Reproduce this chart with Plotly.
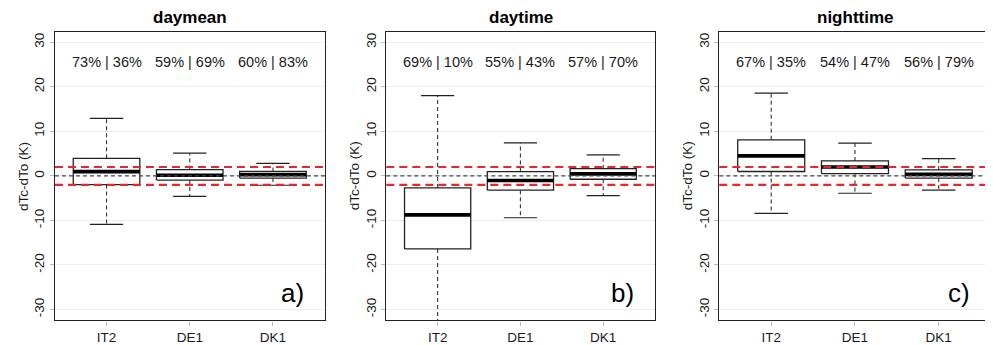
import plotly.graph_objects as go
from plotly.subplots import make_subplots

categories = ["IT2", "DE1", "DK1"]
panels = ["daymean", "daytime", "nighttime"]
panel_tags = ["a)", "b)", "c)"]

# box statistics per panel (IT2, DE1, DK1)
whisk_lo = [[-10.9, -4.6, -2.1], [-36.0, -9.4, -4.45], [-8.4, -3.9, -3.2]]
q1 = [[-1.95, -0.95, -0.5], [-16.4, -3.2, -0.75], [0.98, 0.53, -0.5]]
median = [[0.95, 0.15, 0.25], [-8.75, -1.05, 0.45], [4.5, 2.0, 0.35]]
q3 = [[3.95, 1.42, 0.98], [-2.7, 0.97, 1.62], [8.1, 3.35, 1.34]]
whisk_hi = [[12.9, 5.1, 2.83], [18.0, 7.4, 4.7], [18.6, 7.37, 3.88]]

pct_first = [["73%", "59%", "60%"], ["69%", "55%", "57%"], ["67%", "54%", "56%"]]
pct_second = [["36%", "69%", "83%"], ["10%", "43%", "70%"], ["35%", "47%", "79%"]]

y_ticks = [-30, -20, -10, 0, 10, 20, 30]
band = [-2, 2]
zero_line = 0
y_title = "dTc-dTo (K)"

FONT = "Liberation Sans, Arial, sans-serif"
OFF = 8  # page body margin
W, H = 993 - OFF, 345 - OFF


def px(x):
    return (x - OFF) / W


def py(y):
    return 1 - (y - OFF) / H


fig = make_subplots(rows=1, cols=3)

x_domains = [[px(55), px(325.7)], [px(386.7), px(656)], [px(720), min(1.0, px(992.5))]]
y_domain = [py(322.3), py(31.7)]
half = 0.4
cap = 0.2

for p in range(3):
    col = p + 1
    xs_box, ys_box = [], []
    xs_med, ys_med = [], []
    xs_wh, ys_wh = [], []
    xs_cap, ys_cap = [], []
    for i, c in enumerate(categories):
        xc = i + 1
        xs_box += [xc - half, xc + half, xc + half, xc - half, xc - half, None]
        ys_box += [q1[p][i], q1[p][i], q3[p][i], q3[p][i], q1[p][i], None]
        xs_med += [xc - half, xc + half, None]
        ys_med += [median[p][i], median[p][i], None]
        xs_wh += [xc, xc, None, xc, xc, None]
        ys_wh += [q3[p][i], whisk_hi[p][i], None, q1[p][i], whisk_lo[p][i], None]
        xs_cap += [xc - cap, xc + cap, None, xc - cap, xc + cap, None]
        ys_cap += [whisk_hi[p][i], whisk_hi[p][i], None, whisk_lo[p][i], whisk_lo[p][i], None]

    fig.add_trace(go.Scatter(x=xs_wh, y=ys_wh, mode="lines",
                             line=dict(color="#333333", width=1.1, dash="4px,3px"),
                             hoverinfo="skip", showlegend=False), row=1, col=col)
    fig.add_trace(go.Scatter(x=xs_cap, y=ys_cap, mode="lines",
                             line=dict(color="#222222", width=1.2),
                             hoverinfo="skip", showlegend=False), row=1, col=col)
    fig.add_trace(go.Scatter(x=xs_box, y=ys_box, mode="lines", fill="toself",
                             fillcolor="white",
                             line=dict(color="#222222", width=1.3),
                             hoverinfo="skip", showlegend=False), row=1, col=col)
    fig.add_trace(go.Scatter(x=xs_med, y=ys_med, mode="lines",
                             line=dict(color="black", width=3.6),
                             hoverinfo="skip", showlegend=False), row=1, col=col)

    xa = "x" if p == 0 else f"x{col}"
    ya = "y" if p == 0 else f"y{col}"
    # reference lines
    fig.add_shape(type="line", xref=f"{xa} domain", yref=ya, x0=0, x1=1,
                  y0=zero_line, y1=zero_line, layer="above",
                  line=dict(color="#444444", width=1.2, dash="4px,3px"))
    for b in band:
        fig.add_shape(type="line", xref=f"{xa} domain", yref=ya, x0=0, x1=1,
                      y0=b, y1=b, layer="above",
                      line=dict(color="#e8262b", width=2.2, dash="8px,5px"))

    # percentage labels
    for i, c in enumerate(categories):
        fig.add_annotation(x=i + 1, y=25.6, xref=xa, yref=ya,
                           text=f"{pct_first[p][i]} | {pct_second[p][i]}",
                           showarrow=False, xanchor="center", yanchor="middle",
                           font=dict(family=FONT, size=14.5, color="#1a1a1a"))
    # panel tag
    fig.add_annotation(x=3.4, y=-26.2, xref=xa, yref=ya, text=panel_tags[p],
                       showarrow=False, xanchor="right", yanchor="middle",
                       font=dict(family=FONT, size=26, color="black"))
    # title
    xd = x_domains[p]
    fig.add_annotation(x=(xd[0] + xd[1]) / 2, y=py(18), xref="paper", yref="paper",
                       text=f"<b>{panels[p]}</b>", showarrow=False,
                       xanchor="center", yanchor="middle",
                       font=dict(family=FONT, size=17, color="black"))
    # y title
    fig.add_annotation(x=xd[0] - 31 / W, y=(y_domain[0] + y_domain[1]) / 2,
                       xref="paper", yref="paper", text=y_title, textangle=-90,
                       showarrow=False, xanchor="center", yanchor="middle",
                       font=dict(family=FONT, size=13.5, color="#1a1a1a"))

    fig.update_xaxes(domain=xd, range=[0.38, 3.63], tickmode="array",
                     tickvals=[1, 2, 3], ticktext=categories,
                     showgrid=False, zeroline=False,
                     showline=True, mirror=True, linecolor="#222222", linewidth=1.3,
                     ticks="outside", ticklen=4, tickcolor="#bbbbbb",
                     tickfont=dict(family=FONT, size=13.5, color="#1a1a1a"),
                     row=1, col=col)
    fig.update_yaxes(domain=y_domain, range=[-32.45, 32.4], tickmode="array",
                     tickvals=y_ticks, ticktext=[str(v) for v in y_ticks],
                     tickangle=-90, showgrid=True, gridcolor="#ededed", gridwidth=1,
                     zeroline=False,
                     showline=True, mirror=True, linecolor="#222222", linewidth=1.3,
                     ticks="outside", ticklen=4, tickcolor="#bbbbbb",
                     tickfont=dict(family=FONT, size=13.5, color="#1a1a1a"),
                     row=1, col=col)

fig.update_layout(width=W, height=H, margin=dict(l=0, r=0, t=0, b=0),
                  paper_bgcolor="white", plot_bgcolor="white",
                  showlegend=False, font=dict(family=FONT))

fig.write_html("out.html")
